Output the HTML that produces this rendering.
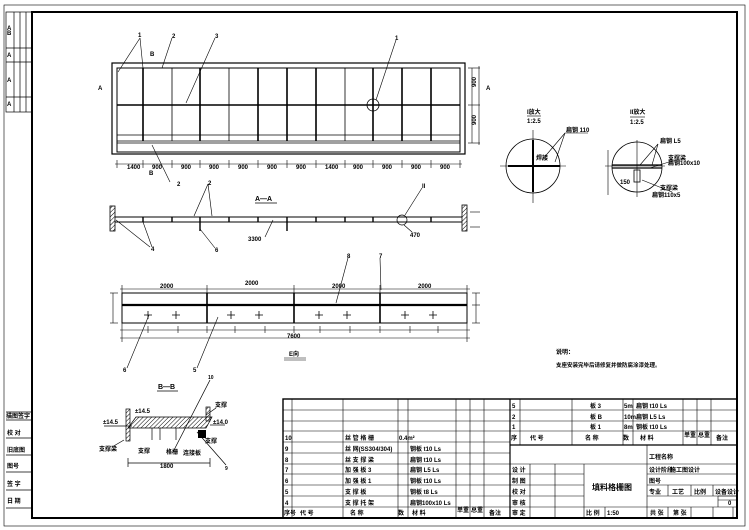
<!DOCTYPE html>
<html><head><meta charset="utf-8"><style>
html,body{margin:0;padding:0;background:#fff;}
svg{display:block;font-family:"Liberation Sans","Noto Sans CJK SC",sans-serif;}
text{font-size:6px;font-weight:bold;fill:#000;}
</style></head><body>
<svg width="749" height="530" viewBox="0 0 749 530" xmlns="http://www.w3.org/2000/svg">
<defs>
<pattern id="h" width="3" height="3" patternUnits="userSpaceOnUse" patternTransform="rotate(45)"><line x1="0" y1="0" x2="0" y2="3" stroke="#000" stroke-width="1"/></pattern>
</defs>
<!-- outer frame -->
<rect x="4" y="5" width="741" height="521" fill="none" stroke="#000" stroke-width="0.6"/>
<rect x="32" y="12" width="705" height="506" fill="none" stroke="#000" stroke-width="2"/>
<!-- left strip top -->
<g stroke="#000" stroke-width="0.7" fill="none">
<rect x="6" y="12" width="26" height="100"/>
<line x1="14" y1="12" x2="14" y2="112"/><line x1="20" y1="12" x2="20" y2="112"/><line x1="26" y1="12" x2="26" y2="112"/>
<line x1="6" y1="48" x2="32" y2="48"/><line x1="6" y1="62" x2="32" y2="62"/><line x1="6" y1="97" x2="32" y2="97"/>
<line x1="6" y1="412" x2="32" y2="412"/><line x1="6" y1="420" x2="32" y2="420"/><line x1="6" y1="438" x2="32" y2="438"/><line x1="6" y1="455" x2="32" y2="455"/><line x1="6" y1="472" x2="32" y2="472"/><line x1="6" y1="490" x2="32" y2="490"/><line x1="6" y1="508" x2="32" y2="508"/>
</g>
<g style="font-size:4px">
<text x="7" y="30">A</text><text x="7" y="35">B</text><text x="7" y="57">A</text><text x="7" y="82">A</text><text x="7" y="106">A</text>
<text x="6" y="418">描图签字</text><text x="7" y="435">校 对</text><text x="7" y="452">旧底图</text><text x="7" y="468">图号</text><text x="7" y="486">签 字</text><text x="7" y="503">日 期</text>
</g>

<!-- PLAN VIEW -->
<g stroke="#000" fill="none">
<rect x="112" y="63" width="353" height="91" stroke-width="1.2"/>
<rect x="117" y="68" width="343" height="84" stroke-width="1"/>
<line x1="117" y1="105" x2="460" y2="105" stroke-width="1.6"/>
<line x1="117" y1="135" x2="460" y2="135" stroke-width="0.8"/>
<line x1="117" y1="141" x2="460" y2="141" stroke-width="0.8"/>
<line x1="117" y1="143" x2="460" y2="143" stroke-width="0.8"/>
<g stroke-width="1.6">
<line x1="143" y1="68" x2="143" y2="141"/><line x1="200" y1="68" x2="200" y2="141"/><line x1="258" y1="68" x2="258" y2="141"/><line x1="287" y1="68" x2="287" y2="141"/><line x1="316" y1="68" x2="316" y2="141"/><line x1="373" y1="68" x2="373" y2="141"/><line x1="402" y1="68" x2="402" y2="141"/><line x1="431" y1="68" x2="431" y2="141"/>
</g>
<g stroke-width="0.8">
<line x1="172" y1="68" x2="172" y2="141"/><line x1="229" y1="68" x2="229" y2="141"/><line x1="345" y1="68" x2="345" y2="141"/>
</g>
<circle cx="373" cy="105" r="6" stroke-width="0.8"/>
<!-- dims bottom -->
<line x1="115" y1="164" x2="462" y2="164" stroke-width="0.6"/>
<g stroke-width="0.6">
<line x1="117" y1="160" x2="117" y2="168"/><line x1="143" y1="160" x2="143" y2="168"/><line x1="172" y1="160" x2="172" y2="168"/><line x1="200" y1="160" x2="200" y2="168"/><line x1="229" y1="160" x2="229" y2="168"/><line x1="258" y1="160" x2="258" y2="168"/><line x1="287" y1="160" x2="287" y2="168"/><line x1="316" y1="160" x2="316" y2="168"/><line x1="345" y1="160" x2="345" y2="168"/><line x1="373" y1="160" x2="373" y2="168"/><line x1="402" y1="160" x2="402" y2="168"/><line x1="431" y1="160" x2="431" y2="168"/><line x1="460" y1="160" x2="460" y2="168"/>
<!-- right dims -->
<line x1="472" y1="68" x2="472" y2="143"/><line x1="468" y1="68" x2="480" y2="68"/><line x1="468" y1="105" x2="480" y2="105"/><line x1="468" y1="143" x2="480" y2="143"/><line x1="479" y1="66" x2="479" y2="145"/>
<!-- leaders -->
<line x1="140" y1="38" x2="118" y2="72"/><line x1="140" y1="38" x2="143" y2="68"/><line x1="172" y1="38" x2="162" y2="68"/><line x1="215" y1="38" x2="186" y2="103"/><line x1="396" y1="40" x2="376" y2="100"/><line x1="152" y1="145" x2="170" y2="182"/>
</g>
</g>
<g style="font-size:5px">
<text x="127" y="169">1400</text><text x="152" y="169">900</text><text x="181" y="169">900</text><text x="209" y="169">900</text><text x="238" y="169">900</text><text x="267" y="169">900</text><text x="296" y="169">900</text><text x="325" y="169">1400</text><text x="353" y="169">900</text><text x="382" y="169">900</text><text x="411" y="169">900</text><text x="440" y="169">900</text>
<text x="138" y="37">1</text><text x="172" y="38">2</text><text x="215" y="38">3</text><text x="395" y="40">1</text><text x="177" y="186">2</text>
<text x="150" y="56">B</text><text x="98" y="90">A</text><text x="486" y="90">A</text><text x="149" y="175">B</text>
<text x="476" y="87" transform="rotate(-90 476 87)">900</text><text x="476" y="125" transform="rotate(-90 476 125)">900</text>
</g>

<!-- SECTION A-A -->
<text x="255" y="201" style="font-size:7px">A—A</text>
<line x1="255" y1="203" x2="277" y2="203" stroke="#000" stroke-width="0.8"/>
<g stroke="#000" fill="none">
<line x1="115" y1="217" x2="462" y2="217" stroke-width="1"/>
<line x1="115" y1="222" x2="462" y2="222" stroke-width="1"/>
<rect x="110" y="206" width="5" height="25" fill="url(#h)" stroke-width="0.8"/>
<rect x="462" y="205" width="5" height="26" fill="url(#h)" stroke-width="0.8"/>
<g stroke-width="1.4">
<line x1="143" y1="217" x2="143" y2="222"/><line x1="200" y1="217" x2="200" y2="231"/><line x1="258" y1="217" x2="258" y2="222"/><line x1="287" y1="217" x2="287" y2="231"/><line x1="316" y1="217" x2="316" y2="222"/><line x1="373" y1="217" x2="373" y2="222"/><line x1="431" y1="217" x2="431" y2="222"/><line x1="172" y1="217" x2="172" y2="222"/><line x1="229" y1="217" x2="229" y2="222"/><line x1="345" y1="217" x2="345" y2="222"/>
</g>
<circle cx="402" cy="220" r="5" stroke-width="0.7"/>
<g stroke-width="0.6">
<line x1="208" y1="184" x2="194" y2="216"/><line x1="208" y1="184" x2="212" y2="216"/><line x1="116" y1="220" x2="150" y2="247"/><line x1="143" y1="222" x2="152" y2="247"/><line x1="200" y1="229" x2="215" y2="248"/><line x1="273" y1="220" x2="265" y2="237"/><line x1="422" y1="188" x2="405" y2="215"/><line x1="404" y1="225" x2="412" y2="232"/><line x1="470" y1="212" x2="480" y2="212"/><line x1="470" y1="227" x2="480" y2="227"/>
</g>
</g>
<g style="font-size:5px"><text x="208" y="185">2</text><text x="151" y="251">4</text><text x="215" y="252">6</text><text x="248" y="241">3300</text><text x="422" y="188">II</text><text x="410" y="237">470</text></g>

<!-- ELEVATION E -->
<g stroke="#000" fill="none">
<rect x="122" y="293" width="345" height="30" stroke-width="1"/>
<line x1="122" y1="305" x2="467" y2="305" stroke-width="2.2"/>
<line x1="207" y1="293" x2="207" y2="323" stroke-width="1.6"/><line x1="294" y1="293" x2="294" y2="323" stroke-width="1.6"/><line x1="380" y1="293" x2="380" y2="323" stroke-width="1.6"/>
<g stroke-width="0.6">
<line x1="120" y1="289" x2="470" y2="289"/><line x1="122" y1="285" x2="122" y2="293"/><line x1="207" y1="285" x2="207" y2="293"/><line x1="294" y1="285" x2="294" y2="293"/><line x1="380" y1="285" x2="380" y2="293"/><line x1="467" y1="285" x2="467" y2="293"/>
<line x1="120" y1="330" x2="470" y2="330"/><line x1="120" y1="338" x2="470" y2="338"/>
<line x1="122" y1="323" x2="122" y2="342"/><line x1="467" y1="323" x2="467" y2="342"/>
<line x1="148" y1="326" x2="148" y2="333"/><line x1="178" y1="326" x2="178" y2="333"/><line x1="207" y1="326" x2="207" y2="333"/><line x1="235" y1="326" x2="235" y2="333"/><line x1="265" y1="326" x2="265" y2="333"/><line x1="294" y1="326" x2="294" y2="333"/><line x1="320" y1="326" x2="320" y2="333"/><line x1="350" y1="326" x2="350" y2="333"/><line x1="380" y1="326" x2="380" y2="333"/><line x1="410" y1="326" x2="410" y2="333"/><line x1="438" y1="326" x2="438" y2="333"/>
<line x1="113" y1="293" x2="113" y2="323"/><line x1="110" y1="293" x2="118" y2="293"/><line x1="110" y1="323" x2="118" y2="323"/>
<line x1="476" y1="293" x2="476" y2="323"/><line x1="472" y1="293" x2="480" y2="293"/><line x1="472" y1="305" x2="480" y2="305"/><line x1="472" y1="323" x2="480" y2="323"/>
<line x1="348" y1="258" x2="336" y2="303"/><line x1="380" y1="258" x2="381" y2="290"/>
<line x1="149" y1="315" x2="127" y2="368"/><line x1="218" y1="317" x2="197" y2="368"/>
</g>
<g stroke-width="0.8">
<path d="M144 315h8M148 311v8M172 315h8M176 311v8M227 315h8M231 311v8M255 315h8M259 311v8M315 315h8M319 311v8M343 315h8M347 311v8M401 315h8M405 311v8M429 315h8M433 311v8"/>
</g>
</g>
<g style="font-size:5px"><text x="160" y="288">2000</text><text x="245" y="285">2000</text><text x="332" y="288">2000</text><text x="418" y="288">2000</text><text x="287" y="338">7600</text><text x="347" y="258">8</text><text x="379" y="258">7</text><text x="123" y="372">6</text><text x="193" y="372">5</text></g>
<text x="289" y="356" style="font-size:6px">E向</text>
<line x1="284" y1="358" x2="306" y2="358" stroke="#000" stroke-width="0.6"/><line x1="284" y1="360" x2="306" y2="360" stroke="#000" stroke-width="0.6"/>

<!-- B-B -->
<text x="158" y="389" style="font-size:7px">B—B</text>
<line x1="157" y1="391" x2="178" y2="391" stroke="#000" stroke-width="0.8"/>
<g stroke="#000" fill="none" stroke-width="0.7">
<polygon points="136,417 212,417 206,428 128,428" fill="url(#h)"/>
<rect x="126" y="409" width="4" height="32" fill="url(#h)"/>
<rect x="206" y="407" width="4" height="14" fill="url(#h)"/>
<line x1="104" y1="426" x2="132" y2="426"/><line x1="210" y1="425" x2="225" y2="425"/>
<line x1="152" y1="428" x2="152" y2="440"/><line x1="160" y1="428" x2="160" y2="440"/><line x1="176" y1="428" x2="176" y2="440"/>
<line x1="128" y1="463" x2="210" y2="463"/><line x1="128" y1="458" x2="128" y2="467"/><line x1="210" y1="458" x2="210" y2="467"/>
<line x1="210" y1="380" x2="173" y2="452"/><line x1="197" y1="432" x2="226" y2="465"/>
<line x1="206" y1="415" x2="216" y2="408"/><line x1="124" y1="440" x2="112" y2="447"/>
</g>
<rect x="198" y="430" width="8" height="8" fill="#000"/>
<g style="font-size:4px"><text x="135" y="413">±14.5</text><text x="103" y="424">±14.5</text><text x="99" y="451">支撑梁</text><text x="138" y="453">支撑</text><text x="166" y="454">格栅</text><text x="183" y="455">连接板</text><text x="213" y="424">±14.0</text><text x="215" y="407">支撑</text><text x="205" y="443">支撑</text><text x="160" y="468">1800</text><text x="208" y="379" style="font-size:5px">10</text><text x="225" y="470" style="font-size:5px">9</text></g>

<!-- Detail circles -->
<g stroke="#000" fill="none">
<circle cx="533" cy="166" r="27" stroke-width="0.8"/>
<line x1="500" y1="166" x2="566" y2="166" stroke-width="0.6"/><line x1="533" y1="130" x2="533" y2="203" stroke-width="0.6"/>
<line x1="508" y1="166" x2="560" y2="166" stroke-width="2"/><line x1="533" y1="140" x2="533" y2="192" stroke-width="2"/>
<line x1="565" y1="133" x2="542" y2="160" stroke-width="0.6"/><line x1="565" y1="133" x2="555" y2="162" stroke-width="0.6"/><line x1="565" y1="133" x2="588" y2="133" stroke-width="0.6"/>
<line x1="527" y1="116" x2="541" y2="116" stroke-width="0.6"/>
<circle cx="637" cy="167" r="25" stroke-width="0.8"/>
<line x1="605" y1="166" x2="665" y2="166" stroke-width="0.6"/><line x1="637" y1="140" x2="637" y2="197" stroke-width="0.6"/>
<line x1="612" y1="165" x2="662" y2="165" stroke-width="1.2"/><line x1="612" y1="168" x2="662" y2="168" stroke-width="1.2"/>
<rect x="634" y="170" width="6" height="12" stroke-width="0.8"/>
<line x1="658" y1="144" x2="640" y2="165" stroke-width="0.6"/><line x1="658" y1="144" x2="652" y2="165" stroke-width="0.6"/>
<line x1="672" y1="161" x2="650" y2="168" stroke-width="0.6"/><line x1="672" y1="192" x2="642" y2="180" stroke-width="0.6"/>
<line x1="608" y1="150" x2="608" y2="195" stroke-width="0.6"/>
<line x1="630" y1="117" x2="645" y2="117" stroke-width="0.6"/>
</g>
<g style="font-size:4px"><text x="527" y="114">I放大</text><text x="527" y="123">1:2.5</text><text x="566" y="132">扁钢 110</text><text x="536" y="160">焊接</text>
<text x="630" y="114">II放大</text><text x="630" y="124">1:2.5</text><text x="660" y="143">扁钢 L5</text><text x="668" y="160">支撑梁</text><text x="668" y="165">扁钢100x10</text><text x="660" y="190">支撑梁</text><text x="652" y="197">扁钢110x5</text><text x="620" y="184">150</text></g>

<!-- Notes -->
<text x="556" y="354" style="font-size:6px">说明：</text>
<text x="556" y="367" style="font-size:5.5px">支座安装完毕后请修复并做防腐涂漆处理。</text>

<!-- TITLE BLOCK -->
<g stroke="#000" fill="none">
<rect x="283" y="399" width="454" height="119" stroke-width="1.4"/>
<line x1="510" y1="399" x2="510" y2="518" stroke-width="1.2"/>
<g stroke-width="0.6">
<!-- left table rows -->
<line x1="283" y1="410" x2="510" y2="410"/><line x1="283" y1="421" x2="510" y2="421"/><line x1="283" y1="431" x2="510" y2="431"/><line x1="283" y1="442" x2="510" y2="442"/><line x1="283" y1="453" x2="510" y2="453"/><line x1="283" y1="464" x2="510" y2="464"/><line x1="283" y1="474" x2="510" y2="474"/><line x1="283" y1="485" x2="510" y2="485"/><line x1="283" y1="496" x2="510" y2="496"/><line x1="283" y1="507" x2="510" y2="507"/>
<line x1="292" y1="399" x2="292" y2="518"/><line x1="343" y1="399" x2="343" y2="518"/><line x1="398" y1="399" x2="398" y2="518"/><line x1="408" y1="399" x2="408" y2="518"/><line x1="456" y1="399" x2="456" y2="518"/><line x1="470" y1="399" x2="470" y2="518"/><line x1="484" y1="399" x2="484" y2="518"/>
<!-- right top -->
<line x1="510" y1="410" x2="737" y2="410"/><line x1="510" y1="421" x2="737" y2="421"/><line x1="510" y1="431" x2="737" y2="431"/>
<line x1="520" y1="399" x2="520" y2="445"/><line x1="572" y1="399" x2="572" y2="445"/><line x1="623" y1="399" x2="623" y2="445"/><line x1="633" y1="399" x2="633" y2="445"/><line x1="683" y1="399" x2="683" y2="445"/><line x1="697" y1="399" x2="697" y2="445"/><line x1="711" y1="399" x2="711" y2="445"/>
<!-- right bottom -->
<line x1="510" y1="464" x2="737" y2="464"/>
<line x1="510" y1="474" x2="584" y2="474"/><line x1="510" y1="485" x2="584" y2="485"/><line x1="510" y1="496" x2="584" y2="496"/><line x1="510" y1="507" x2="584" y2="507"/>
<line x1="530" y1="464" x2="530" y2="518"/><line x1="555" y1="464" x2="555" y2="518"/><line x1="584" y1="464" x2="584" y2="518"/><line x1="647" y1="445" x2="647" y2="518"/>
<line x1="584" y1="507" x2="737" y2="507"/>
<line x1="647" y1="474" x2="737" y2="474"/><line x1="647" y1="485" x2="737" y2="485"/><line x1="647" y1="496" x2="737" y2="496"/>
<line x1="668" y1="485" x2="668" y2="496"/><line x1="691" y1="485" x2="691" y2="496"/><line x1="713" y1="485" x2="713" y2="496"/>
<line x1="718" y1="496" x2="737" y2="496"/><line x1="718" y1="500" x2="737" y2="500"/><line x1="718" y1="496" x2="718" y2="507"/>
<line x1="605" y1="507" x2="605" y2="518"/><line x1="668" y1="507" x2="668" y2="518"/><line x1="691" y1="507" x2="691" y2="518"/><line x1="713" y1="507" x2="713" y2="518"/><line x1="733" y1="507" x2="733" y2="518"/>
</g>
<line x1="510" y1="445" x2="737" y2="445" stroke-width="1.2"/>
</g>
<g style="font-size:5px">
<text x="285" y="440">10</text><text x="285" y="451">9</text><text x="285" y="462">8</text><text x="285" y="472">7</text><text x="285" y="483">6</text><text x="285" y="494">5</text><text x="285" y="505">4</text><text x="284" y="515">序号</text>
<text x="345" y="440">丝 管 格 栅</text><text x="345" y="451">丝 网(SS304/304)</text><text x="345" y="462">丝 支 撑 梁</text><text x="345" y="472">加 强 板 3</text><text x="345" y="483">加 强 板 1</text><text x="345" y="494">支 撑 板</text><text x="345" y="505">支 撑 托 架</text>
<text x="399" y="440">0.4m²</text>
<text x="410" y="451">钢板 t10 Ls</text><text x="410" y="462">扁钢 t10 Ls</text><text x="410" y="472">扁钢 L5 Ls</text><text x="410" y="483">钢板 t10 Ls</text><text x="410" y="494">钢板 t8 Ls</text><text x="410" y="505">扁钢100x10 Ls</text>
<text x="300" y="515">代 号</text><text x="350" y="515">名 称</text><text x="398" y="515">数</text><text x="412" y="515">材 料</text><text x="457" y="512">单重</text><text x="471" y="512">总重</text><text x="489" y="515">备注</text>
<text x="512" y="408">5</text><text x="512" y="419">2</text><text x="512" y="429">1</text>
<text x="590" y="408">板 3</text><text x="590" y="419">板 B</text><text x="590" y="429">板 1</text>
<text x="624" y="408">5m</text><text x="624" y="419">10m</text><text x="624" y="429">8m</text>
<text x="636" y="408">扁钢 t10 Ls</text><text x="636" y="419">扁钢 L5 Ls</text><text x="636" y="429">钢板 t10 Ls</text>
<text x="511" y="440">序</text><text x="530" y="440">代 号</text><text x="585" y="440">名 称</text><text x="623" y="440">数</text><text x="640" y="440">材 料</text><text x="684" y="437">单重</text><text x="698" y="437">总重</text><text x="716" y="440">备注</text>
<text x="649" y="459">工程名称</text>
<text x="512" y="472">设 计</text><text x="512" y="483">制 图</text><text x="512" y="494">校 对</text><text x="512" y="505">审 核</text><text x="512" y="515">审 定</text>
<text x="649" y="472">设计阶段</text><text x="670" y="472">施工图设计</text><text x="649" y="483">图号</text><text x="649" y="494">专业</text><text x="672" y="494">工艺</text><text x="694" y="494">比例</text><text x="715" y="494">设备设计</text>
<text x="586" y="515">比 例</text><text x="607" y="515">1:50</text><text x="650" y="515">共 张</text><text x="673" y="515">第 张</text><text x="728" y="505">0</text>
</g>
<text x="592" y="490" style="font-size:8px">填料格栅图</text>
</svg>
</body></html>
